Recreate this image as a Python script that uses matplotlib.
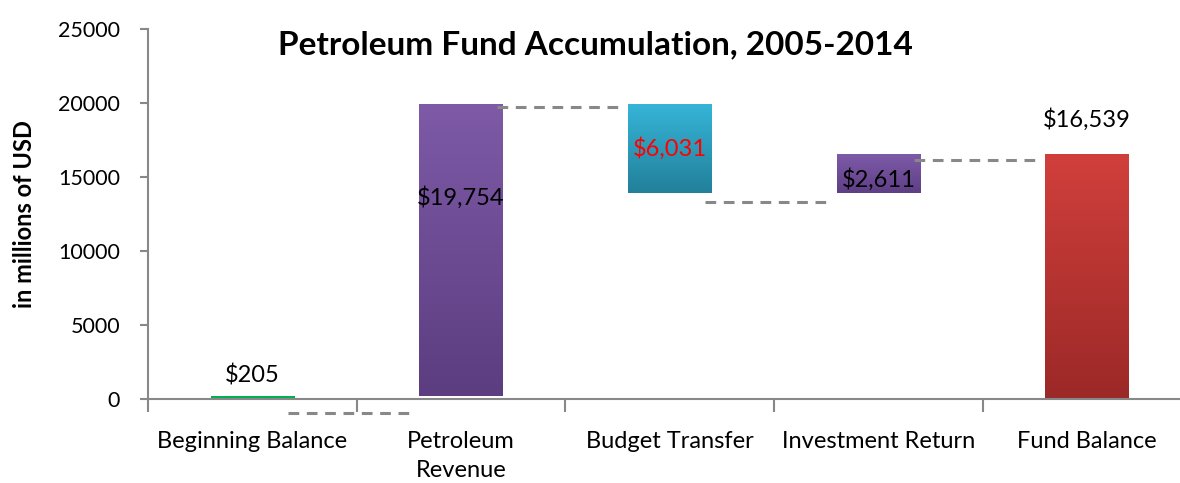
import numpy as np
import matplotlib
matplotlib.use('Agg')
import matplotlib.pyplot as plt
from matplotlib.colors import LinearSegmentedColormap

plt.rcParams['font.family'] = ['Lato', 'DejaVu Sans']

# Waterfall data (millions of USD)
categories = ['Beginning Balance', 'Petroleum\nRevenue', 'Budget Transfer',
              'Investment Return', 'Fund Balance']
amounts = [205, 19754, -6031, 2611, 16539]
is_total = [False, False, False, False, True]
value_labels = ['$205', '$19,754', '$6,031', '$2,611', '$16,539']
label_colors = ['black', 'black', 'red', 'black', 'black']
# dashed connector levels as drawn in the original
connector_y = [-950, 19730, 13310, 16150]

# bar gradient colours (top, bottom)
top_colors = ['#00B050', '#7E5AA7', '#36B5D8', '#7E5AA8', '#D13F3C']
bottom_colors = ['#00B050', '#5C3D80', '#22809A', '#5E3F85', '#9B2927']

# compute floating bars
bottoms, heights = [], []
running = 0
for amt, tot in zip(amounts, is_total):
    if tot:
        bottoms.append(0)
        heights.append(amt)
        running = amt
    else:
        start = running
        running += amt
        bottoms.append(min(start, running))
        heights.append(abs(amt))

fig = plt.figure(figsize=(11.8, 4.83), dpi=100)
ax = fig.add_axes([148/1180, 1 - 399/483, 1 - 148/1180, (399 - 29)/483])

x = np.arange(len(categories))
bars = ax.bar(x, heights, bottom=bottoms, width=0.4, color='none', zorder=2)

for i, b in enumerate(bars):
    cmap = LinearSegmentedColormap.from_list('g', [bottom_colors[i], top_colors[i]])
    grad = np.linspace(0, 1, 256).reshape(-1, 1)
    x0, y0 = b.get_x(), b.get_y()
    im = ax.imshow(grad, cmap=cmap, origin='lower', aspect='auto',
                   extent=[x0, x0 + b.get_width(), y0, y0 + b.get_height()],
                   zorder=2)
    im.set_clip_path(b)

# connectors
for i, cy in enumerate(connector_y):
    ax.plot([i + 0.17, i + 0.75], [cy, cy], ls=(0, (3.5, 2.5)), color='#888888',
            lw=2.2, clip_on=False, zorder=3)

# value labels
label_y = [bottoms[0] + heights[0] + 1400, 13600, bottoms[2] + heights[2] / 2,
           14800, heights[4] + 2350]
for i, (t, c) in enumerate(zip(value_labels, label_colors)):
    ax.text(x[i], label_y[i], t, ha='center', va='center', fontsize=17, color=c,
            zorder=4)

ax.set_xlim(-0.5, -0.5 + (1180 - 148) / 208.7)
ax.set_ylim(0, 25000)
ax.set_yticks(range(0, 25001, 5000))
ax.set_xticks(x)
ax.set_xticklabels(categories, fontsize=17, linespacing=1.45)
ax.set_xticks(np.arange(-0.5, 4.5, 1), minor=True)
ax.tick_params(axis='x', which='major', length=0, pad=23)
ax.tick_params(axis='x', which='minor', length=9, color='#888888', width=1.5)
ax.tick_params(axis='y', labelsize=15.5, length=6, color='#888888', width=1.5, pad=14)
for s in ['top', 'right']:
    ax.spines[s].set_visible(False)
for s in ['left', 'bottom']:
    ax.spines[s].set_color('#888888')
    ax.spines[s].set_linewidth(1.5)

ax.set_ylabel('in millions of USD', fontsize=17, fontweight='bold', labelpad=16)
fig.text(595/1180, 1 - 45/483, 'Petroleum Fund Accumulation, 2005-2014',
         ha='center', va='center', fontsize=24, fontweight='bold')

fig.savefig('out.png', dpi=100)
